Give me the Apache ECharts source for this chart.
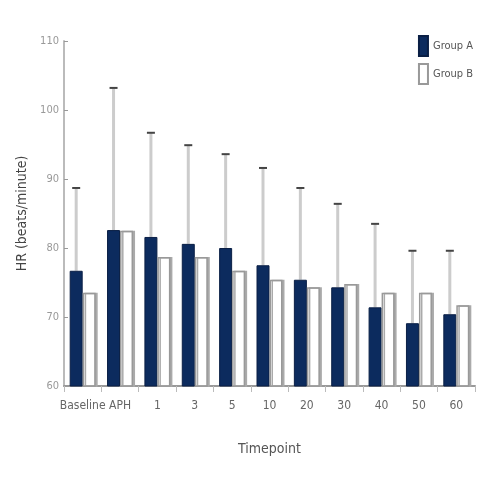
<!DOCTYPE html>
<html><head><meta charset="utf-8">
<script src="https://cdn.jsdelivr.net/npm/echarts@6/dist/echarts.min.js"></script>
<style>html,body{margin:0;padding:0;background:#fff}#c{width:500px;height:500px}</style>
</head><body><div id="c"></div>
<script>
var categories = ["Baseline","APH","1","3","5","10","20","30","40","50","60"];
var groupA = [76.7, 82.6, 81.6, 80.6, 80.0, 77.5, 75.4, 74.3, 71.4, 69.1, 70.4];
var groupB = [73.5, 82.5, 78.7, 78.7, 76.7, 75.4, 74.3, 74.8, 73.5, 73.5, 71.7];
var groupAErrTop = [88.7, 103.2, 96.7, 94.9, 93.6, 91.6, 88.7, 86.4, 83.5, 79.6, 79.6];
var yTicks = [60, 70, 80, 90, 100, 110];

var BAR_W = 13;
var font = "'DejaVu Sans Condensed', 'Liberation Sans Narrow', 'DejaVu Sans', sans-serif";
var chart = echarts.init(document.getElementById('c'));
chart.setOption({
  animation: false,
  backgroundColor: '#fff',
  grid: {left: 64, right: 25, top: 41, bottom: 114},
  legend: {
    orient: 'vertical', right: 22, top: 30, itemWidth: 9, itemHeight: 20, itemGap: 6,
    icon: 'rect',
    textStyle: {fontFamily: font, fontSize: 11, color: '#555'},
    data: ['Group A', 'Group B']
  },
  xAxis: {
    type: 'category', data: categories,
    name: 'Timepoint', nameLocation: 'middle', nameGap: 56,
    nameTextStyle: {fontFamily: font, fontSize: 14, color: '#555'},
    axisLine: {lineStyle: {color: '#999', width: 2}},
    axisTick: {show: true, length: 6, lineStyle: {color: '#bbb'}},
    axisLabel: {interval: 0, fontFamily: font, fontSize: 12, color: '#666', margin: 14}
  },
  yAxis: {
    type: 'value', min: yTicks[0], max: yTicks[yTicks.length - 1], interval: 10,
    name: 'HR (beats/minute)', nameLocation: 'middle', nameGap: 30,
    nameTextStyle: {fontFamily: font, fontSize: 14, color: '#444'},
    axisLine: {show: true, lineStyle: {color: '#bbb', width: 2}},
    axisTick: {show: true, inside: true, length: 4, lineStyle: {color: '#999'}},
    splitLine: {show: false},
    axisLabel: {fontFamily: font, fontSize: 11, color: '#999', margin: 5}
  },
  series: [
    {
      name: 'Group A', type: 'bar', data: groupA, barWidth: BAR_W, barGap: '0%',
      itemStyle: {color: '#0c2b5e', borderColor: '#0a1f45', borderWidth: 1}
    },
    {
      name: 'Group B', type: 'bar', data: groupB, barWidth: BAR_W,
      itemStyle: {color: '#fff', borderColor: '#999', borderWidth: 1.5,
        shadowColor: '#aaa', shadowOffsetX: 2, shadowBlur: 0}
    },
    {
      name: 'errA', type: 'custom', z: 1,
      data: groupA.map(function (v, i) { return [i, v, groupAErrTop[i]]; }),
      renderItem: function (params, api) {
        var lo = api.coord([api.value(0), api.value(1)]);
        var hi = api.coord([api.value(0), api.value(2)]);
        var x = lo[0] - BAR_W / 2;
        return {type: 'group', children: [
          {type: 'line', shape: {x1: x, y1: lo[1], x2: x, y2: hi[1]},
           style: {stroke: '#ccc', lineWidth: 3}},
          {type: 'line', shape: {x1: x - 4, y1: hi[1], x2: x + 4, y2: hi[1]},
           style: {stroke: '#444', lineWidth: 2}}
        ]};
      }
    }
  ]
});
</script></body></html>
